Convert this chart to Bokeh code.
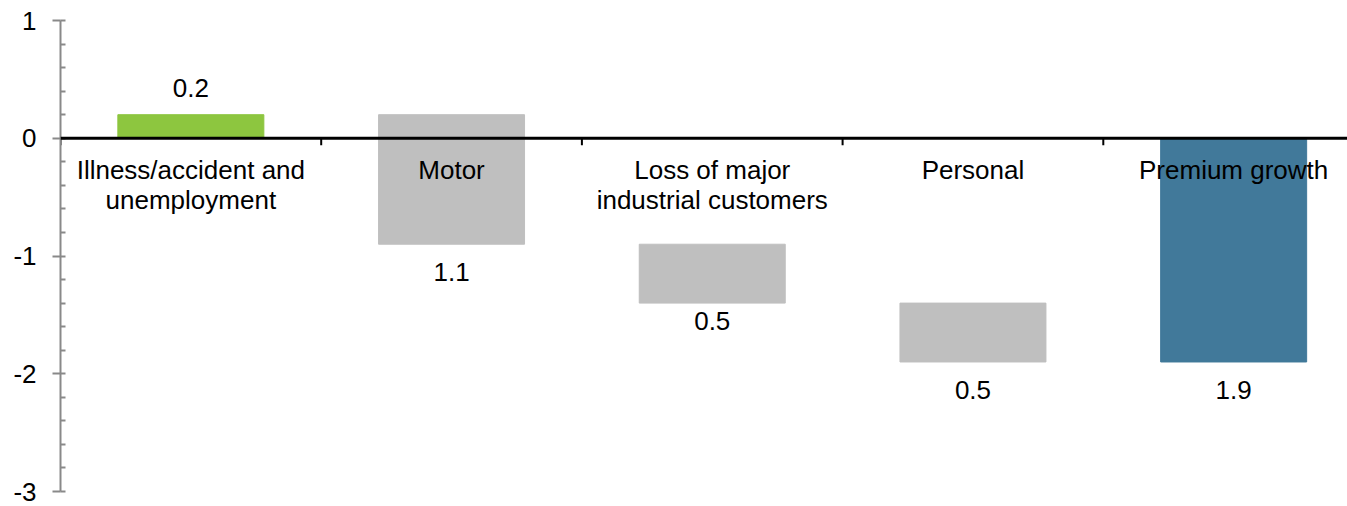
import numpy as np
from bokeh.plotting import figure
from bokeh.models import Range1d, Span, FixedTicker, ColumnDataSource
from bokeh.core.properties import value
from bokeh.embed import file_html
from bokeh.resources import INLINE

# ---- data ----
categories = ["Illness/accident and\nunemployment", "Motor",
              "Loss of major\nindustrial customers", "Personal", "Premium growth"]
bar_start = [0.0, 0.2, -0.9, -1.4, 0.0]
bar_end = [0.2, -0.9, -1.4, -1.9, -1.9]
bar_labels = ["0.2", "1.1", "0.5", "0.5", "1.9"]
bar_colors = ["#8DC63F", "#BFBFBF", "#BFBFBF", "#BFBFBF", "#41799A"]
label_gap = [27, 28, 18, 28, 28]  # px distance of value label from bar end
y_ticks = [-3, -2, -1, 0, 1]
y_tick_labels = ["-3", "-2", "-1", "0", "1"]

FONT = "Liberation Sans"
FS = "26px"
n = len(categories)
xc = np.arange(n) + 0.5

W, H = 1347, 506
left, top, bottom = 60, 20, 15
cat_px = 260.7
x_end = (W - left) / cat_px

p = figure(width=W, height=H, output_backend="svg", toolbar_location=None,
           x_range=Range1d(0, x_end), y_range=Range1d(-3, 1),
           min_border_left=left, min_border_right=0, min_border_top=top,
           min_border_bottom=bottom)
p.outline_line_color = None
p.xgrid.visible = False
p.ygrid.visible = False
p.xaxis.visible = False

yax = p.yaxis[0]
yax.ticker = FixedTicker(ticks=y_ticks,
                         minor_ticks=[t / 5 for t in range(-15, 6)])
yax.major_label_overrides = {t: s for t, s in zip(y_ticks, y_tick_labels)}
yax.axis_line_color = "#898989"
yax.axis_line_width = 2
yax.major_tick_line_color = "#898989"
yax.major_tick_line_width = 2
yax.major_tick_out = 8
yax.major_tick_in = 0
yax.minor_tick_line_color = "#898989"
yax.minor_tick_line_width = 2
yax.minor_tick_in = 5
yax.minor_tick_out = 0
yax.major_label_standoff = 16
yax.major_label_text_font = FONT
yax.major_label_text_font_size = FS
yax.major_label_text_color = "black"

bottoms = [min(a, b) for a, b in zip(bar_start, bar_end)]
tops = [max(a, b) for a, b in zip(bar_start, bar_end)]
src = ColumnDataSource(dict(x=xc, bottom=bottoms, top=tops, color=bar_colors))
p.vbar(x="x", bottom="bottom", top="top", width=0.56, source=src,
       fill_color="color", line_color="color")

# zero line
p.add_layout(Span(location=0, dimension="width", line_color="black", line_width=3))
# category boundary ticks
bx = np.arange(n + 1)
p.segment(x0=bx, y0=np.zeros(n + 1), x1=bx, y1=np.full(n + 1, -0.06),
          line_color="black", line_width=2)

# category labels
p.text(x=xc, y=np.full(n, -0.14), text=categories, text_align="center",
       text_baseline="top", text_font=value(FONT), text_font_size=FS,
       text_color="black", text_line_height=1.0)

# value labels
lab_y = [e for e in bar_end]
offs = [(-g if e > s else g) for s, e, g in zip(bar_start, bar_end, label_gap)]
p.text(x=xc, y=lab_y, text=bar_labels, y_offset=offs, text_align="center",
       text_baseline="middle", text_font=value(FONT), text_font_size=FS,
       text_color="black")

open("out.html", "w").write(file_html(p, INLINE))
